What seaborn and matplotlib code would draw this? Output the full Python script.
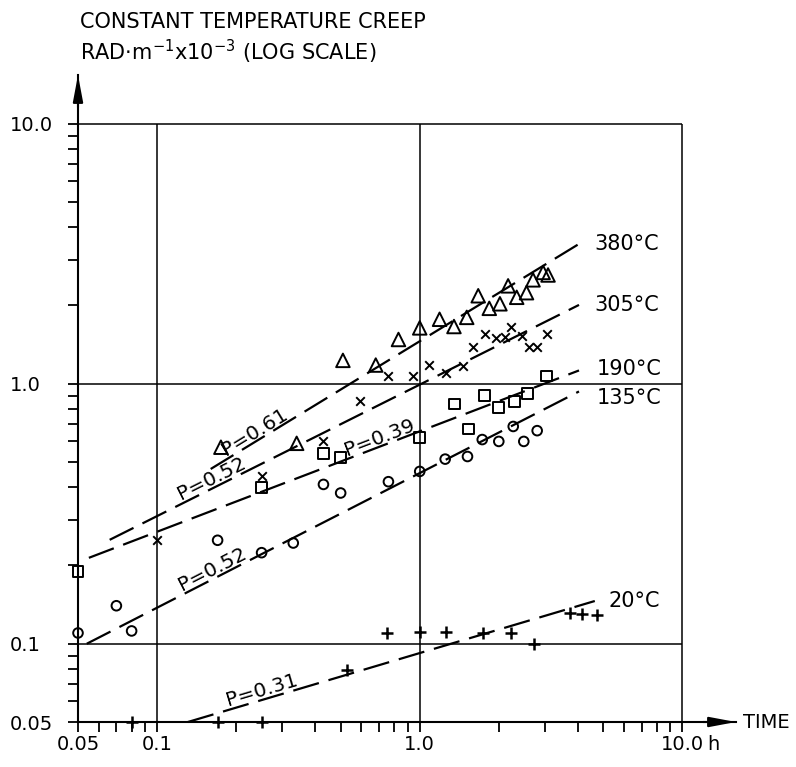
import numpy as np
import matplotlib
matplotlib.use("Agg")
import matplotlib.pyplot as plt
import matplotlib.ticker as mticker
import seaborn as sns

# creep readings: time (h) vs curvature (rad/m x 1e-3)
t380_x = [0.175, 0.34, 0.51, 0.68, 0.83, 1.0, 1.19, 1.35, 1.51, 1.67, 1.84, 2.02, 2.17, 2.34, 2.55, 2.70, 2.95, 3.08]
t380_y = [0.57, 0.59, 1.23, 1.18, 1.48, 1.64, 1.77, 1.66, 1.80, 2.18, 1.95, 2.03, 2.38, 2.15, 2.24, 2.51, 2.68, 2.62]

t305_x = [0.10, 0.25, 0.43, 0.59, 0.76, 0.94, 1.08, 1.26, 1.46, 1.59, 1.77, 1.96, 2.11, 2.23, 2.46, 2.61, 2.80, 3.04]
t305_y = [0.25, 0.44, 0.60, 0.855, 1.07, 1.07, 1.18, 1.10, 1.17, 1.39, 1.56, 1.50, 1.51, 1.66, 1.53, 1.38, 1.38, 1.56]

t190_x = [0.05, 0.25, 0.43, 0.50, 1.0, 1.36, 1.53, 1.77, 2.0, 2.29, 2.57, 3.04]
t190_y = [0.19, 0.40, 0.54, 0.52, 0.62, 0.835, 0.67, 0.90, 0.81, 0.855, 0.915, 1.07]

t135_x = [0.05, 0.07, 0.08, 0.17, 0.25, 0.33, 0.43, 0.50, 0.76, 1.0, 1.25, 1.52, 1.73, 2.0, 2.27, 2.49, 2.80]
t135_y = [0.11, 0.14, 0.112, 0.25, 0.224, 0.244, 0.41, 0.38, 0.42, 0.46, 0.513, 0.525, 0.61, 0.60, 0.685, 0.60, 0.66]

t20_x = [0.08, 0.17, 0.25, 0.53, 0.75, 1.0, 1.26, 1.74, 2.23, 2.73, 3.73, 4.13, 4.73]
t20_y = [0.05, 0.05, 0.05, 0.079, 0.11, 0.111, 0.111, 0.11, 0.11, 0.10, 0.131, 0.13, 0.129]

# fitted power-law lines (end points) and their labels
temps = ["380°C", "305°C", "190°C", "135°C", "20°C"]
fit_x0 = [0.16, 0.066, 0.055, 0.054, 0.131]
fit_y0 = [0.47, 0.251, 0.214, 0.10, 0.05]
fit_x1 = [4.04, 4.04, 4.04, 4.04, 4.64]
fit_y1 = [3.45, 2.01, 1.125, 0.934, 0.146]

# slope labels sit on their line, centred at these times
p_text = ["P=0.61", "P=0.52", "P=0.39", "P=0.52", "P=0.31"]
p_x = [0.245, 0.167, 0.72, 0.169, 0.257]

x_major = [0.05, 0.1, 1.0, 10.0]
x_labels = ["0.05", "0.1", "1.0", "10.0"]
y_major = [0.05, 0.1, 1.0, 10.0]
y_labels = ["0.05", "0.1", "1.0", "10.0"]
grid_vals = [0.1, 1.0, 10.0]

sns.set_style("ticks")
plt.rcParams["font.family"] = ["DejaVu Sans"]
plt.rcParams.update({"text.color": "k", "xtick.color": "k", "ytick.color": "k",
                     "axes.edgecolor": "k", "axes.labelcolor": "k"})

fig = plt.figure(figsize=(7.96, 7.67), dpi=100)
ax = fig.add_axes([78 / 796, 45 / 767, 658 / 796, 647 / 767])
ax.set_xscale("log")
ax.set_yscale("log")
ax.set_xlim(0.05, 16)
ax.set_ylim(0.05, 15.4)

# frame lines at the decades
ax.hlines(grid_vals, 0.05, 10, color="k", lw=1.1, zorder=1)
ax.vlines(grid_vals, 0.05, 10, color="k", lw=1.1, zorder=1)

for i in range(len(temps)):
    sns.lineplot(x=[fit_x0[i], fit_x1[i]], y=[fit_y0[i], fit_y1[i]], color="k",
                 lw=1.6, linestyle=(0, (12, 4.5)), ax=ax, clip_on=False)

hollow = dict(facecolor="none", edgecolor="k", linewidth=1.4, clip_on=False, zorder=3)
sns.scatterplot(x=t380_x, y=t380_y, marker="^", s=95, ax=ax, **hollow)
sns.scatterplot(x=t190_x, y=t190_y, marker="s", s=60, ax=ax, **hollow)
sns.scatterplot(x=t135_x, y=t135_y, marker="o", s=48, ax=ax, **hollow)
sns.scatterplot(x=t305_x, y=t305_y, marker="x", s=38, color="k", linewidth=1.4, ax=ax, clip_on=False, zorder=3)
sns.scatterplot(x=t20_x, y=t20_y, marker="+", s=70, color="k", linewidth=1.8, ax=ax, clip_on=False, zorder=3)

# temperature labels at the line ends
lab_dx = [11, 11, 13, 13, 10]
lab_dy = [0, 0, 1, -4.5, 0]
for i, t in enumerate(temps):
    ax.annotate(t, xy=(fit_x1[i], fit_y1[i]), xytext=(lab_dx[i], lab_dy[i]),
                textcoords="offset points", ha="left", va="center", fontsize=15)

# slope labels, turned to follow their line and resting on it
for i, t in enumerate(p_text):
    lx = np.log10([fit_x0[i], fit_x1[i]])
    ly = np.log10([fit_y0[i], fit_y1[i]])
    y_on = 10 ** np.interp(np.log10(p_x[i]), lx, ly)
    a = ax.transData.transform((fit_x0[i], fit_y0[i]))
    b = ax.transData.transform((fit_x1[i], fit_y1[i]))
    ang = np.degrees(np.arctan2(b[1] - a[1], b[0] - a[0]))
    r = np.radians(ang)
    ax.annotate(t, xy=(p_x[i], y_on), xytext=(-np.sin(r) * 2.5, np.cos(r) * 2.5),
                textcoords="offset points", rotation=ang, rotation_mode="anchor",
                ha="center", va="baseline", fontsize=14.5)

sns.despine(ax=ax)
ax.spines["left"].set_linewidth(1.5)
ax.spines["bottom"].set_linewidth(1.5)

ax.xaxis.set_major_locator(mticker.FixedLocator(x_major))
ax.xaxis.set_major_formatter(mticker.FixedFormatter(x_labels))
ax.yaxis.set_major_locator(mticker.FixedLocator(y_major))
ax.yaxis.set_major_formatter(mticker.FixedFormatter(y_labels))
for axis in (ax.xaxis, ax.yaxis):
    axis.set_minor_locator(mticker.LogLocator(base=10, subs=np.arange(2, 10) * 1.0, numticks=20))
    axis.set_minor_formatter(mticker.NullFormatter())
ax.tick_params(which="both", direction="out", width=1.3, color="k", length=7, labelsize=14)
ax.tick_params(axis="x", pad=2.5)
ax.tick_params(axis="y", pad=42)
plt.setp(ax.yaxis.get_majorticklabels(), ha="left")

# arrow heads on both axes
head = dict(arrowstyle="-|>,head_length=1.6,head_width=0.3", color="k", lw=1.5, shrinkA=0, shrinkB=0)
ax.annotate("", xy=(0, 1), xytext=(0, 0.95), xycoords="axes fraction", arrowprops=head)
ax.annotate("", xy=(1, 0), xytext=(0.95, 0), xycoords="axes fraction", arrowprops=head)

ax.annotate("TIME", xy=(1, 0), xycoords="axes fraction", xytext=(5, 0),
            textcoords="offset points", ha="left", va="center", fontsize=14)
ax.annotate("h", xy=(10, 0), xycoords=("data", "axes fraction"), xytext=(22, -16),
            textcoords="offset points", ha="center", va="center", fontsize=14)

fig.text(80 / 796, 1 - 22 / 767, "CONSTANT TEMPERATURE CREEP", ha="left", va="center", fontsize=15)
fig.text(80 / 796, 1 - 52 / 767, r"RAD$\cdot$m$^{-1}$x10$^{-3}$ (LOG SCALE)",
         ha="left", va="center", fontsize=15)

plt.savefig("out.png", dpi=100)
